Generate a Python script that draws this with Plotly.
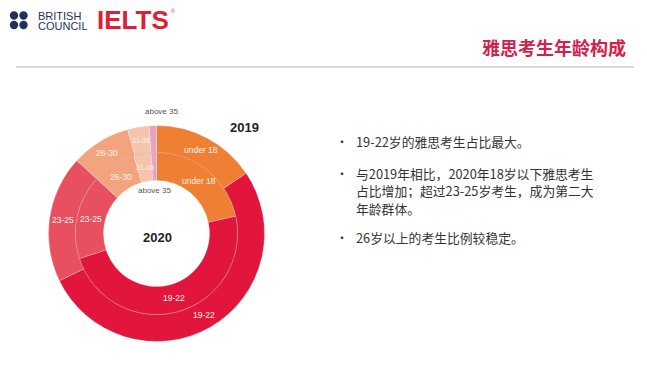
import math
import plotly.graph_objects as go

W, H = 647, 377

categories = ["under 18", "19-22", "23-25", "26-30", "31-35", "above 35"]
share_2019 = [15.6, 52.2, 19.0, 8.9, 3.2, 1.1]
share_2020 = [21.6, 48.4, 16.8, 8.7, 3.4, 1.1]
colors = ["#EE7F33", "#E2153D", "#E8505F", "#F3A47E", "#F6C4AC", "#E8A3C4"]

title_text = "雅思考生年龄构成"
bullets = [
    ["19-22岁的雅思考生占比最大。"],
    ["与2019年相比，2020年18岁以下雅思考生", "占比增加；超过23-25岁考生，成为第二大", "年龄群体。"],
    ["26岁以上的考生比例较稳定。"],
]


def px(x):
    return x / W


def py(y):
    return 1 - y / H


cx, cy = 156.5, 233.5
R_out, R_mid, R_in = 108, 81, 53

fig = go.Figure()
for vals, r_o, r_i, nm in [(share_2019, R_out, R_mid, "2019"), (share_2020, R_mid, R_in, "2020")]:
    fig.add_trace(go.Pie(
        labels=categories, values=vals, sort=False, direction="clockwise", rotation=0,
        hole=r_i / r_o,
        domain=dict(x=[px(cx - r_o), px(cx + r_o)], y=[py(cy + r_o), py(cy - r_o)]),
        marker=dict(colors=colors, line=dict(color="rgba(255,255,255,0.45)", width=0.6)),
        textinfo="none",
        showlegend=False, hoverinfo="label+percent", name=nm,
    ))

ann = []


def slice_labels(vals, r_o, r_i):
    total = sum(vals)
    cum = 0.0
    rm = (r_o + r_i) / 2
    for lab, v in zip(categories[:-1], vals[:-1]):
        mid = (cum + v / 2) / total * 2 * math.pi
        cum += v
        x = cx + rm * math.sin(mid)
        y = cy - rm * math.cos(mid)
        size = 8.5 if v > 5 else 7
        ann.append(dict(text=lab, x=px(x), y=py(y), xanchor="center", yanchor="middle",
                        font=dict(family="Liberation Sans", size=size, color="#FFF4EC")))


slice_labels(share_2019, R_out, R_mid)
slice_labels(share_2020, R_mid, R_in)

shapes = []
shapes.append(dict(type="circle", xref="paper", yref="paper",
                   x0=px(cx - R_mid), x1=px(cx + R_mid), y0=py(cy + R_mid), y1=py(cy - R_mid),
                   line=dict(color="rgba(120,20,30,0.18)", width=1)))
shapes.append(dict(type="line", xref="paper", yref="paper", x0=px(16), x1=px(634), y0=py(67), y1=py(67),
                   line=dict(color="#DADADA", width=2)))
for (dx, dy) in [(14, 15.5), (23.5, 15.5), (14, 25), (23.5, 25)]:
    r = 4.2
    shapes.append(dict(type="circle", xref="paper", yref="paper",
                       x0=px(dx - r), x1=px(dx + r), y0=py(dy + r), y1=py(dy - r),
                       fillcolor="#232F5E", line=dict(width=0)))

ann.append(dict(text="BRITISH", x=px(36.5), y=py(16), xanchor="left", yanchor="middle", height=10,
                font=dict(family="Liberation Sans", size=11, color="#232F5E")))
ann.append(dict(text="COUNCIL", x=px(36.5), y=py(25.5), xanchor="left", yanchor="middle", height=10,
                font=dict(family="Liberation Sans", size=11, color="#232F5E")))
ann.append(dict(text="<b>IELTS</b>", x=px(96), y=py(20), xanchor="left", yanchor="middle",
                font=dict(family="Liberation Sans", size=26, color="#DD1E34")))
ann.append(dict(text="®", x=px(172.5), y=py(10.5), xanchor="center", yanchor="middle",
                font=dict(family="Liberation Sans", size=5, color="#DD1E34")))
ann.append(dict(text="<b>" + title_text + "</b>", x=px(627), y=py(47), xanchor="right", yanchor="middle",
                font=dict(family="Noto Sans CJK SC", size=18, color="#D3214B")))

ann.append(dict(text="<b>2019</b>", x=px(244), y=py(127), xanchor="center", yanchor="middle",
                font=dict(family="Liberation Sans", size=13, color="#222222")))
ann.append(dict(text="<b>2020</b>", x=px(157), y=py(237), xanchor="center", yanchor="middle",
                font=dict(family="Liberation Sans", size=13, color="#222222")))
ann.append(dict(text=categories[-1], x=px(161), y=py(111), xanchor="center", yanchor="middle",
                font=dict(family="Liberation Sans", size=8, color="#555555")))
ann.append(dict(text=categories[-1], x=px(154), y=py(190), xanchor="center", yanchor="middle",
                font=dict(family="Liberation Sans", size=8, color="#555555")))

line_y = [[141.5], [173, 190.5, 208], [237]]
for lines, ys in zip(bullets, line_y):
    ann.append(dict(text="•", x=px(342), y=py(ys[0]), xanchor="center", yanchor="middle",
                    font=dict(family="Noto Sans CJK SC", size=12, color="#333333")))
    for t, yy in zip(lines, ys):
        ann.append(dict(text=t, x=px(355), y=py(yy), xanchor="left", yanchor="middle", height=15,
                        font=dict(family="Noto Sans CJK SC", size=12.8, color="#333333")))

for a in ann:
    a.update(xref="paper", yref="paper", showarrow=False, borderpad=0)

fig.update_layout(
    width=W, height=H, margin=dict(l=0, r=0, t=0, b=0),
    paper_bgcolor="white", plot_bgcolor="white",
    shapes=shapes, annotations=ann,
)

fig.write_html("out.html", config={"displayModeBar": False},
               post_script="document.body.style.margin='0';document.body.style.padding='0';")
